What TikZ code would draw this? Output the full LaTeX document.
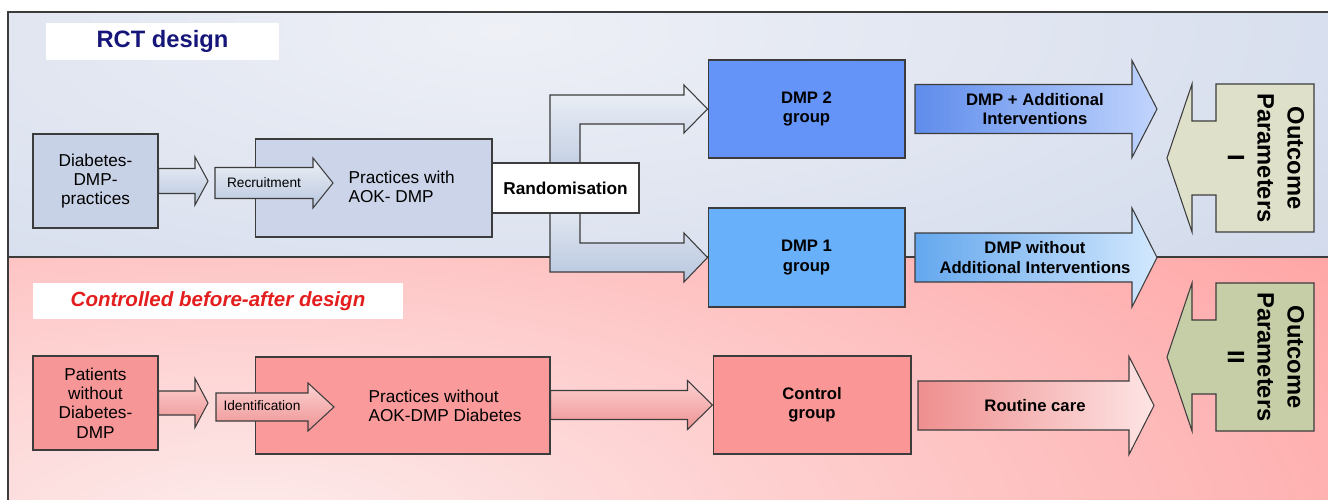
\documentclass[tikz,border=0pt]{standalone}
\usepackage{fontspec}
\setmainfont{Liberation Sans}
\usetikzlibrary{calc}

\definecolor{lineGray}{HTML}{3C3C3C}
\definecolor{bgTopIn}{HTML}{EEF0F6}
\definecolor{bgTopOut}{HTML}{C6D1E7}
\definecolor{bgBotIn}{HTML}{FDECEC}
\definecolor{bgBotOut}{HTML}{FFA0A0}
\definecolor{diabFill}{HTML}{C8D2E6}
\definecolor{pracFill}{HTML}{CBD4E8}
\definecolor{arrowLight}{HTML}{EEF1F7}
\definecolor{arrowDark}{HTML}{B7C6DE}
\definecolor{dmpTwoFill}{HTML}{6494F8}
\definecolor{dmpOneFill}{HTML}{69B0FA}
\definecolor{patFill}{HTML}{F79696}
\definecolor{pracTwoFill}{HTML}{FA9A9A}
\definecolor{ctrlFill}{HTML}{FB9696}
\definecolor{outIFill}{HTML}{DFE0CA}
\definecolor{outIIFill}{HTML}{C6CEA7}
\definecolor{rctBlue}{HTML}{16167A}
\definecolor{cbaRed}{HTML}{E41E1E}

\tikzset{
  box/.style={draw=lineGray, line width=0.6pt, inner sep=0pt, align=center,
    font=\fontsize{9.8}{11}\selectfont},
  boldbox/.style={box, font=\fontsize{9.5}{11}\selectfont\bfseries},
  titlebox/.style={fill=white, inner sep=0pt, font=\fontsize{13.5}{15}\selectfont\bfseries},
  grayarrow/.style={draw=lineGray, line width=0.6pt, top color=arrowLight, bottom color=arrowDark},
  pinkarrow/.style={draw=lineGray, line width=0.6pt, top color=pracTwoFill!45!white, bottom color=pracTwoFill!95!black},
  arrowtext/.style={inner sep=0pt, align=center, font=\fontsize{9.5}{11}\selectfont\bfseries},
  smalltext/.style={inner sep=0pt, font=\fontsize{7.8}{9}\selectfont},
  outtext/.style={inner sep=0pt, align=center, rotate=-90, font=\fontsize{13.5}{17}\selectfont\bfseries}
}

% block arrow: [style]{tail}{tip}{shaft half width}{head half width}{head length}
\newcommand{\blockarrow}[6][]{%
  \draw[#1] ($(#2 |- #3)+(0,#4)$) -- ($(#3)+(-#6,#4)$) -- ($(#3)+(-#6,#5)$) -- (#3)
    -- ($(#3)+(-#6,-#5)$) -- ($(#3)+(-#6,-#4)$) -- ($(#2 |- #3)+(0,-#4)$) -- cycle;}

\begin{document}
\begin{tikzpicture}[x=0.02cm, y=-0.02cm]
  \useasboundingbox (0,0) rectangle (1328,500);

  % backgrounds
  \begin{scope}
    \clip (8,12) rectangle (1328,257);
    \fill[bgTopOut] (8,12) rectangle (1328,257);
    \shade[inner color=bgTopIn, outer color=bgTopOut] (500,30) ellipse [x radius=30cm, y radius=10.4cm];
  \end{scope}
  \begin{scope}
    \clip (8,257) rectangle (1328,500);
    \fill[bgBotOut] (8,257) rectangle (1328,500);
    \shade[inner color=bgBotIn, outer color=bgBotOut] (250,530) ellipse [x radius=28cm, y radius=11cm];
  \end{scope}
  \draw[lineGray, line width=0.7pt] (8,500) -- (8,12) -- (1328,12);
  \draw[lineGray, line width=0.7pt] (8,257) -- (1328,257);

  % titles
  \node[titlebox, text=rctBlue, minimum width=4.66cm, minimum height=0.74cm] (rct) at (162.5,41.5) {RCT design};
  \node[titlebox, text=cbaRed, minimum width=7.4cm, minimum height=0.72cm,
    font=\fontsize{11.7}{14}\selectfont\bfseries\itshape] (cba) at (218,301) {Controlled before-after design};

  % RCT part
  \node[box, fill=diabFill, minimum width=2.5cm, minimum height=1.88cm] (diab) at (95.5,181) {Diabetes-\\DMP-\\practices};
  \node[box, fill=pracFill, minimum width=4.74cm, minimum height=1.96cm] (prac) at (373.5,188) {};
  \coordinate (a1tip) at (208,181);
  \blockarrow[grayarrow]{diab.east}{a1tip}{12.5}{24}{13}
  \coordinate (rtail) at (215,183);
  \coordinate (rtip) at (333,183);
  \blockarrow[grayarrow]{rtail}{rtip}{15.5}{25}{20}
  \node[smalltext] (recr) at (264,183) {Recruitment};
  \node[box, draw=none, fill=none, align=left, anchor=west] (pracl) at (348,187) {Practices with\\AOK- DMP};

  \node[boldbox, fill=dmpTwoFill, minimum width=3.94cm, minimum height=1.96cm] (dmp2) at (806.5,109) {DMP 2\\group};
  \node[boldbox, fill=dmpOneFill, minimum width=3.94cm, minimum height=1.98cm] (dmp1) at (806.5,257.5) {DMP 1\\group};

  \draw[grayarrow]
    (550,190) -- (550,95) -- (684,95) -- (684,85) -- (dmp2.west) -- (684,133) -- (684,124) -- (580,124) -- (580,190) -- cycle;
  \draw[grayarrow]
    (550,190) -- (550,272) -- (684,272) -- (684,282) -- (dmp1.west) -- (684,233) -- (684,243) -- (580,243) -- (580,190) -- cycle;
  \node[boldbox, fill=white, minimum width=2.94cm, minimum height=1.0cm,
    font=\fontsize{9.8}{11}\selectfont\bfseries] (rand) at (565.5,188) {Randomisation};

  \coordinate (d2tail) at (915,109);
  \coordinate (d2tip) at (1157,109);
  \blockarrow[draw=lineGray, line width=0.6pt, left color=dmpTwoFill!95!black, right color=dmpTwoFill!40!white]{d2tail}{d2tip}{24.5}{48.5}{25}
  \node[arrowtext] (d2lab) at (1035,109) {DMP + Additional\\Interventions};
  \coordinate (d1tail) at (915,257.5);
  \coordinate (d1tip) at (1157,257.5);
  \blockarrow[draw=lineGray, line width=0.6pt, left color=dmpOneFill!95!black, right color=dmpOneFill!30!white]{d1tail}{d1tip}{24.5}{49.5}{25}
  \node[arrowtext] (d1lab) at (1035,257.5) {DMP without\\Additional Interventions};

  % controlled before-after part
  \node[box, fill=patFill, minimum width=2.5cm, minimum height=1.88cm] (pat) at (95.5,403) {Patients\\without\\Diabetes-\\DMP};
  \node[box, fill=pracTwoFill, minimum width=5.9cm, minimum height=1.94cm] (prac2) at (402.5,405.5) {};
  \coordinate (b1tip) at (208,403);
  \blockarrow[pinkarrow]{pat.east}{b1tip}{12}{24.5}{13}
  \coordinate (itail) at (216,407);
  \coordinate (itip) at (334,407);
  \blockarrow[pinkarrow]{itail}{itip}{14}{24}{26}
  \node[smalltext] (ident) at (262,406) {Identification};
  \node[box, draw=none, fill=none, align=left, anchor=west] (prac2l) at (368,406) {Practices without\\AOK-DMP Diabetes};

  \node[boldbox, fill=ctrlFill, minimum width=3.96cm, minimum height=1.96cm] (ctrl) at (812,405) {Control\\group};
  \blockarrow[pinkarrow]{prac2.east}{ctrl.west}{14.5}{24.5}{25}
  \coordinate (rctail) at (918,405.5);
  \coordinate (rctip) at (1154,405.5);
  \blockarrow[draw=lineGray, line width=0.6pt, left color=ctrlFill!95!black, right color=ctrlFill!25!white]{rctail}{rctip}{24.5}{49}{25}
  \node[arrowtext] (rclab) at (1035,405.5) {Routine care};

  % outcome parameters
  \foreach \yc/\fc/\num/\nm in {158/outIFill/I/outa, 357/outIIFill/II/outb} {
    \draw[draw=lineGray, line width=0.6pt, fill=\fc]
      (1216,\yc-74) -- (1314,\yc-74) -- (1314,\yc+74) -- (1216,\yc+74) -- (1216,\yc+37) -- (1192,\yc+37)
      -- (1192,\yc+74) -- (1167,\yc) -- (1192,\yc-74) -- (1192,\yc-37) -- (1216,\yc-37) -- cycle;
    \node[outtext] (\nm) at (1266,\yc) {Outcome\\Parameters\\\num};
  }
\end{tikzpicture}
\end{document}
